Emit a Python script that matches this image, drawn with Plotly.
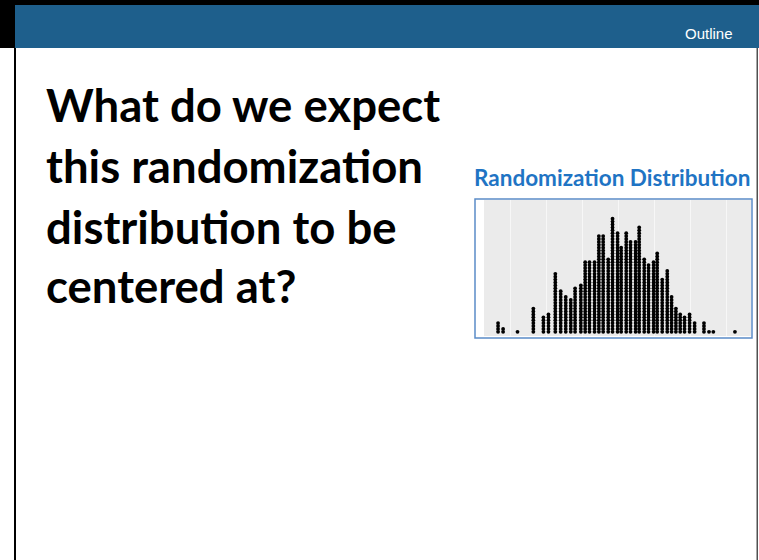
import plotly.graph_objects as go

# ---- data ----
stack_x = [-0.167, -0.160, -0.140, -0.118, -0.104, -0.097, -0.0875, -0.080, -0.073, -0.066,
           -0.060, -0.052, -0.046, -0.040, -0.033, -0.027, -0.021, -0.014, -0.008, -0.001,
           0.004, 0.011, 0.017, 0.024, 0.029, 0.036, 0.042, 0.049, 0.054, 0.061,
           0.068, 0.074, 0.080, 0.086, 0.092, 0.099, 0.106, 0.119, 0.126, 0.132, 0.162]
stack_n = [4, 2, 1, 9, 6, 7, 21, 15, 13, 12,
           16, 17, 25, 25, 25, 34, 34, 26, 40, 35,
           30, 35, 32, 32, 37, 26, 24, 25, 28, 19,
           22, 13, 9, 7, 6, 7, 4, 4, 1, 1, 1]
grid_x = [-0.15, -0.10, -0.05, 0.0, 0.05, 0.10, 0.15]

title_lines = ["What do we expect", "this randomization", "distribution to be", "centered at?"]
chart_title = "Randomization Distribution"
header_text = "Outline"

W, H = 759, 560

xs, ys = [], []
for x, n in zip(stack_x, stack_n):
    for k in range(1, n + 1):
        xs.append(x)
        ys.append(k)

fig = go.Figure()
fig.add_trace(go.Scatter(
    x=xs, y=ys, mode="markers",
    marker=dict(size=3.8, color="black", line=dict(width=0)),
    hoverinfo="skip", showlegend=False))

def px(x):
    return x / W

def py(y):
    return 1 - y / H

# panel placement
x_left, x_right = 484, 751
y_top, y_bot = 200, 336
unit = 2.9  # px per stacked dot
y0 = 1 - 4.2 / unit
y1 = y0 + (y_bot - y_top) / unit
x_per_px = 1 / 720.0
xr0 = (x_left - 618.3) * x_per_px
xr1 = (x_right - 618.3) * x_per_px

fig.update_layout(
    width=W, height=H,
    margin=dict(l=0, r=0, t=0, b=0),
    paper_bgcolor="white",
    plot_bgcolor="#EBEBEB",
    xaxis=dict(domain=[px(x_left), px(x_right)], range=[xr0, xr1],
               tickvals=grid_x, showticklabels=False, ticks="",
               showgrid=True, gridcolor="#F7F7F7", gridwidth=1,
               zeroline=False, showline=False, fixedrange=True),
    yaxis=dict(domain=[py(y_bot), py(y_top)], range=[y0, y1],
               showticklabels=False, ticks="", showgrid=False,
               zeroline=False, showline=False, fixedrange=True),
    showlegend=False,
)

shapes = []
# top black strip
shapes.append(dict(type="rect", xref="paper", yref="paper", x0=0, x1=1, y0=py(5), y1=1,
                   fillcolor="black", line=dict(width=0), layer="below"))
# header bar
shapes.append(dict(type="rect", xref="paper", yref="paper", x0=px(15), x1=1, y0=py(48), y1=py(5),
                   fillcolor="#1e5f8c", line=dict(width=0), layer="below"))
# left black in header
shapes.append(dict(type="rect", xref="paper", yref="paper", x0=0, x1=px(15), y0=py(48), y1=1,
                   fillcolor="black", line=dict(width=0), layer="below"))
# left slide border line
shapes.append(dict(type="rect", xref="paper", yref="paper", x0=px(14), x1=px(16), y0=0, y1=py(48),
                   fillcolor="black", line=dict(width=0), layer="below"))
# right border line
shapes.append(dict(type="rect", xref="paper", yref="paper", x0=px(756.5), x1=px(758), y0=0, y1=py(48),
                   fillcolor="#505050", line=dict(width=0), layer="below"))
# picture frame
shapes.append(dict(type="rect", xref="paper", yref="paper", x0=px(475), x1=px(752), y0=py(338), y1=py(199),
                   fillcolor="rgba(0,0,0,0)", line=dict(color="#5b8cc8", width=1.5), layer="above"))
fig.update_layout(shapes=shapes)

annotations = []
annotations.append(dict(text=header_text, xref="paper", yref="paper", x=px(735), y=py(33),
                        xanchor="right", yanchor="middle", showarrow=False,
                        font=dict(family="Liberation Sans Narrow, Arial Narrow, Liberation Sans",
                                  size=15, color="white")))
line_y = [104, 165, 226, 285]
for t, yy in zip(title_lines, line_y):
    annotations.append(dict(text="<b>" + t + "</b>", xref="paper", yref="paper", x=px(44), y=py(yy),
                            xanchor="left", yanchor="middle", showarrow=False,
                            font=dict(family="Lato, Open Sans, sans-serif", size=45.5, color="black")))
annotations.append(dict(text="<b>" + chart_title + "</b>", xref="paper", yref="paper",
                        x=px(611.5), y=py(177), xanchor="center", yanchor="middle", showarrow=False,
                        font=dict(family="Lato, Open Sans, sans-serif", size=22.5, color="#1f74c4")))
fig.update_layout(annotations=annotations)

fig.write_html("out.html", config={"displayModeBar": False},
               post_script="document.body.style.margin='0px';")
